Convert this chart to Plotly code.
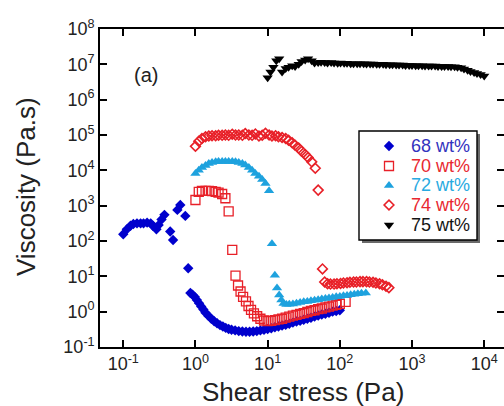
import plotly.graph_objects as go

# ---------------- data ----------------
x68 = [0.100, 0.112, 0.126, 0.138, 0.155, 0.174, 0.191, 0.214, 0.240, 0.257,
       0.288, 0.309, 0.339, 0.372, 0.447, 0.490, 0.562, 0.617, 0.724, 0.794,
       0.851, 0.912, 0.977, 1.047, 1.122, 1.202, 1.288, 1.380, 1.514, 1.660,
       1.820, 1.995, 2.188, 2.399, 2.630, 2.884, 3.162, 3.548, 3.981, 4.467,
       5.012, 5.623, 6.310, 7.079, 7.943, 8.913, 10.00, 11.22, 12.59, 14.13,
       15.85, 17.78, 19.95, 22.39, 25.12, 28.18, 31.62, 35.48, 39.81, 44.67,
       50.12, 56.23, 63.10, 70.79, 79.43, 89.13, 100.0]
y68 = [155, 214, 269, 302, 316, 316, 316, 331, 316, 269,
       214, 282, 407, 550, 186, 107, 759, 1047, 513, 17,
       3.39, 3.02, 2.63, 2.14, 1.74, 1.41, 1.15, 0.933, 0.759, 0.631,
       0.537, 0.468, 0.417, 0.380, 0.347, 0.324, 0.309, 0.295, 0.282, 0.275,
       0.269, 0.269, 0.275, 0.282, 0.295, 0.309, 0.324, 0.339, 0.363, 0.380,
       0.407, 0.427, 0.457, 0.490, 0.525, 0.550, 0.589, 0.631, 0.676, 0.724,
       0.776, 0.832, 0.871, 0.933, 1.000, 1.047, 1.096]

x70 = [1.000, 1.112, 1.230, 1.380, 1.531, 1.698, 1.905, 2.089, 2.344, 2.600,
       2.884, 3.236, 3.589, 3.890, 4.217, 4.571, 5.012, 5.433, 5.888, 6.457,
       7.161, 7.943, 8.913, 10.00, 11.22, 12.59, 14.13, 15.85, 17.78, 19.95,
       22.39, 25.12, 28.18, 31.62, 35.48, 39.81, 44.67, 50.12, 56.23, 63.10,
       70.79, 79.43, 89.13, 100.0, 120.2]
y70 = [1445, 2455, 2630, 2630, 2630, 2570, 2455, 2344, 2138, 1622,
       692, 56.2, 10.5, 5.50, 3.72, 2.63, 1.95, 1.445, 1.122, 0.891,
       0.741, 0.631, 0.562, 0.537, 0.550, 0.575, 0.603, 0.631, 0.676, 0.724,
       0.776, 0.813, 0.871, 0.912, 0.977, 1.047, 1.096, 1.175, 1.230, 1.318,
       1.380, 1.479, 1.549, 1.660, 1.905]

x72 = [1.000, 1.112, 1.230, 1.380, 1.531, 1.698, 1.905, 2.089, 2.344, 2.600,
       2.884, 3.236, 3.589, 3.981, 4.467, 4.898, 5.495, 6.095, 6.761, 7.586,
       8.414, 9.333, 10.47, 11.48, 12.59, 13.49, 14.45, 15.49, 16.60, 18.20,
       19.95, 22.39, 25.12, 28.18, 31.62, 35.48, 39.81, 44.67, 50.12, 56.23,
       63.10, 70.79, 79.43, 89.13, 100.0, 112.2, 125.9, 141.3, 158.5, 177.8,
       199.5, 229.1]
y72 = [8128, 10000, 12020, 13800, 15490, 16600, 17380, 17780, 17780, 17780,
       17780, 17780, 17380, 16600, 15490, 14130, 12020, 10000, 8128, 6761,
       5495, 4266, 2630, 83.2, 10.7, 4.68, 2.95, 2.14, 1.70, 1.585,
       1.622, 1.660, 1.738, 1.820, 1.905, 1.950, 2.042, 2.089, 2.188, 2.291,
       2.344, 2.455, 2.512, 2.630, 2.692, 2.818, 2.884, 3.020, 3.090, 3.236,
       3.311, 3.388]

x74 = [1.000, 1.112, 1.230, 1.380, 1.531, 1.698, 1.905, 2.089, 2.344, 2.600,
       2.884, 3.236, 3.589, 3.981, 4.467, 4.898, 5.495, 6.095, 6.761, 7.586,
       8.414, 9.333, 10.47, 11.48, 12.88, 14.13, 15.85, 17.78, 19.50, 21.88,
       23.99, 26.92, 29.51, 33.11, 36.31, 40.74, 45.71, 50.12, 57.54, 61.66,
       67.61, 74.13, 83.18, 91.20, 102.3, 112.2, 125.9, 138.0, 154.9, 169.8,
       190.5, 208.9, 234.4, 257.0, 288.4, 316.2, 354.8, 389.0, 436.5, 478.6]
y74 = [47860, 66070, 79430, 89130, 93330, 95500, 95500, 97720, 97720, 100000,
       97720, 104700, 100000, 100000, 97720, 109600, 100000, 97720, 107200, 93330,
       97720, 112200, 100000, 93330, 95500, 89130, 85110, 79430, 70790, 60260,
       51290, 42660, 34670, 28180, 22910, 17380, 11480, 2754, 16.2, 6.92,
       6.17, 6.03, 6.03, 6.17, 6.31, 6.46, 6.61, 6.76, 6.92, 6.92,
       7.08, 7.08, 7.08, 6.92, 6.76, 6.46, 6.17, 5.75, 5.25, 4.79]

x75 = [10.00, 10.96, 12.02, 13.18, 14.45, 15.85, 17.78, 19.50, 21.88, 23.99,
       26.92, 29.51, 33.11, 36.31, 40.74, 44.67, 50.12, 54.95, 61.66, 67.61,
       75.86, 83.18, 93.33, 102.3, 114.8, 125.9, 141.3, 154.9, 173.8, 190.5,
       213.8, 234.4, 263.0, 288.4, 323.6, 354.8, 398.1, 436.5, 489.8, 537.0,
       602.6, 660.7, 741.3, 812.8, 912.0, 1000, 1122, 1230, 1380, 1514,
       1698, 1862, 2089, 2291, 2570, 2818, 3162, 3467, 3890, 4266,
       4786, 5248, 5888, 6457, 7244, 7943, 8913, 10000]
y75 = [4.17e6, 6.03e6, 8.32e6, 1.259e7, 1.445e7, 6.03e6, 7.59e6, 8.32e6, 9.12e6, 8.71e6,
       1.0e7, 1.202e7, 1.318e7, 1.445e7, 1.259e7, 1.096e7, 1.122e7, 1.148e7, 1.122e7, 1.096e7,
       1.122e7, 1.096e7, 1.072e7, 1.096e7, 1.072e7, 1.072e7, 1.047e7, 1.047e7, 1.047e7, 1.047e7,
       1.047e7, 1.023e7, 1.023e7, 1.023e7, 1.0e7, 1.0e7, 1.0e7, 9.77e6, 9.77e6, 9.77e6,
       9.55e6, 9.55e6, 9.55e6, 9.33e6, 9.33e6, 9.33e6, 9.12e6, 9.12e6, 9.12e6, 8.91e6,
       8.91e6, 8.91e6, 8.91e6, 8.71e6, 8.71e6, 8.71e6, 8.71e6, 8.51e6, 8.51e6, 8.32e6,
       7.94e6, 7.41e6, 6.76e6, 6.31e6, 5.89e6, 5.50e6, 5.13e6, 4.68e6]

labels = ["68 wt%", "70 wt%", "72 wt%", "74 wt%", "75 wt%"]
xtick_vals = [0.1, 1, 10, 100, 1000, 10000]
xtick_text = ["10<sup>-1</sup>", "10<sup>0</sup>", "10<sup>1</sup>", "10<sup>2</sup>",
              "10<sup>3</sup>", "10<sup>4</sup>"]
ytick_vals = [0.1, 1, 10, 100, 1e3, 1e4, 1e5, 1e6, 1e7, 1e8]
ytick_text = ["10<sup>-1</sup>", "10<sup>0</sup>", "10<sup>1</sup>", "10<sup>2</sup>",
              "10<sup>3</sup>", "10<sup>4</sup>", "10<sup>5</sup>", "10<sup>6</sup>",
              "10<sup>7</sup>", "10<sup>8</sup>"]

# ---------------- styling ----------------
BLUE = "rgb(0,0,205)"
RED = "rgb(232,32,40)"
LBLUE = "rgb(30,162,222)"
BLACK = "rgb(0,0,0)"
LEG_TXT = ["rgb(50,50,190)", "rgb(232,40,48)", "rgb(40,170,225)", "rgb(232,40,48)", "rgb(20,20,20)"]

markers = [
    dict(symbol="diamond", size=8, color=BLUE, line=dict(width=0)),
    dict(symbol="square-open", size=9, color=RED, line=dict(width=1.3)),
    dict(symbol="triangle-up", size=9, color=LBLUE, line=dict(width=0)),
    dict(symbol="diamond-open", size=7.5, color=RED, line=dict(width=1.6)),
    dict(symbol="triangle-down", size=9, color=BLACK, line=dict(width=0)),
]
series = [(x68, y68), (x70, y70), (x72, y72), (x74, y74), (x75, y75)]

FONT = "Arial, Liberation Sans, sans-serif"
TXT = "#222"
W, H = 504, 406
L, R, T, B = 100, 0, 29, 59
pw, ph = W - L - R, H - T - B


def px2paper(px, py):
    return (px - L) / pw, (H - B - py) / ph


fig = go.Figure()
for (xs, ys), mk, lab in zip(series, markers, labels):
    fig.add_trace(go.Scatter(x=xs, y=ys, mode="markers", marker=mk, name=lab,
                             showlegend=False))

# hand-built legend (box, shadow, symbols, coloured labels)
leg_left, leg_top, leg_right, leg_bot = 359, 131, 477, 240
row_y = [146, 166, 185.5, 205, 225]
sym_x, txt_x = 389, 409
for mk, lab, tc, ry in zip(markers, labels, LEG_TXT, row_y):
    px_, py_ = px2paper(sym_x, ry)
    fig.add_trace(go.Scatter(x=[px_], y=[py_], mode="markers", marker=mk,
                             xaxis="x2", yaxis="y2", showlegend=False, hoverinfo="skip"))
    tx, ty = px2paper(txt_x, ry)
    fig.add_annotation(text=lab, xref="paper", yref="paper", x=tx, y=ty,
                       xanchor="left", yanchor="middle", showarrow=False,
                       font=dict(family=FONT, size=18, color=tc))

axis_common = dict(
    type="log", showline=True, linecolor="black", linewidth=1.6, mirror="ticks",
    ticks="inside", ticklen=7, tickwidth=1.5, tickcolor="black",
    showgrid=False, zeroline=False, automargin=False,
    tickfont=dict(family=FONT, size=18, color=TXT),
)

fig.update_xaxes(
    **axis_common, range=[-1.322, 4.274],
    tickvals=xtick_vals, ticktext=xtick_text,
)
fig.update_yaxes(
    **axis_common, range=[-1, 8],
    tickvals=ytick_vals, ticktext=ytick_text,
)

sx0, sy0 = px2paper(leg_left + 3, leg_bot + 3)
sx1, sy1 = px2paper(leg_right + 3, leg_top + 3)
bx0, by0 = px2paper(leg_left, leg_bot)
bx1, by1 = px2paper(leg_right, leg_top)

fig.update_layout(
    width=W, height=H,
    margin=dict(l=L, r=R, t=T, b=B),
    paper_bgcolor="white", plot_bgcolor="white",
    font=dict(family=FONT, color=TXT),
    showlegend=False,
    xaxis2=dict(overlaying="x", range=[0, 1], visible=False, fixedrange=True),
    yaxis2=dict(overlaying="y", range=[0, 1], visible=False, fixedrange=True),
    shapes=[
        dict(type="rect", xref="paper", yref="paper", x0=sx0, y0=sy0, x1=sx1, y1=sy1,
             fillcolor="#6a6a6a", line=dict(width=0), layer="below"),
        dict(type="rect", xref="paper", yref="paper", x0=bx0, y0=by0, x1=bx1, y1=by1,
             fillcolor="white", line=dict(color="black", width=1.4), layer="below"),
    ],
)
# axis titles placed as annotations at the reference positions
fig.add_annotation(text="Shear stress (Pa)", xref="paper", yref="paper",
                   x=px2paper(303, 392)[0], y=px2paper(303, 392)[1],
                   xanchor="center", yanchor="middle", showarrow=False,
                   font=dict(family=FONT, size=26, color=TXT))
fig.add_annotation(text="Viscosity (Pa.s)", xref="paper", yref="paper",
                   x=px2paper(26, 187)[0], y=px2paper(26, 187)[1], textangle=-90,
                   xanchor="center", yanchor="middle", showarrow=False,
                   font=dict(family=FONT, size=26, color=TXT))
fig.add_annotation(text="(a)", xref="paper", yref="paper",
                   x=px2paper(132, 62)[0], y=px2paper(132, 62)[1],
                   showarrow=False, font=dict(family=FONT, size=20, color=TXT))

fig.write_html("out.html", config={"displayModeBar": False},
               post_script="document.body.style.margin='0px';document.body.style.overflow='hidden';")
